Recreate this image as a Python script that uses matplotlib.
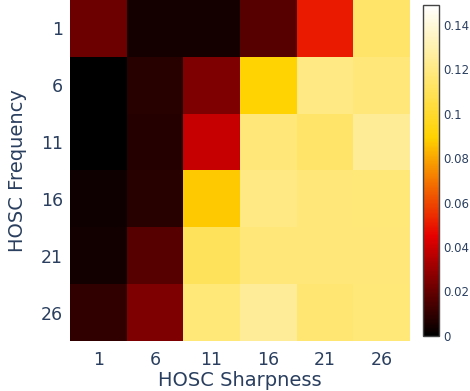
import numpy as np
import matplotlib.pyplot as plt
from matplotlib.colors import LinearSegmentedColormap

sharpness = [1, 6, 11, 16, 21, 26]
frequency = [1, 6, 11, 16, 21, 26]

# rows = frequency, columns = sharpness
row_1 = [0.0212, 0.0042, 0.0042, 0.0174, 0.0503, 0.114]
row_6 = [0.0000, 0.0077, 0.0250, 0.0900, 0.1200, 0.118]
row_11 = [0.0003, 0.0074, 0.0386, 0.1180, 0.1140, 0.124]
row_16 = [0.0030, 0.0077, 0.0875, 0.1200, 0.1180, 0.117]
row_21 = [0.0035, 0.0174, 0.1110, 0.1180, 0.1180, 0.118]
row_26 = [0.0097, 0.0247, 0.1170, 0.1250, 0.1160, 0.117]

cbar_ticks = [0, 0.02, 0.04, 0.06, 0.08, 0.1, 0.12, 0.14]
cbar_labels = ['0', '0.02', '0.04', '0.06', '0.08', '0.1', '0.12', '0.14']

z = np.array([row_1, row_6, row_11, row_16, row_21, row_26])

# plotly "Hot" scale
hot = LinearSegmentedColormap.from_list('hot_pl', [
    (0.0, (0, 0, 0)),
    (0.3, (230/255, 0, 0)),
    (0.6, (1, 210/255, 0)),
    (1.0, (1, 1, 1))])

txt = '#2a3f5f'
fig = plt.figure(figsize=(4.7, 3.91), dpi=100)
ax = fig.add_axes([0.149, 0.128, 0.723, 0.872])
im = ax.imshow(z, cmap=hot, vmin=0, vmax=0.149, aspect='auto', origin='upper')

ax.set_xticks(range(len(sharpness)))
ax.set_xticklabels([str(s) for s in sharpness])
ax.set_yticks(range(len(frequency)))
ax.set_yticklabels([str(f) for f in frequency])
ax.tick_params(length=0, labelsize=12.5, labelcolor=txt, pad=5)
ax.tick_params(axis='x', pad=7)
for s in ax.spines.values():
    s.set_visible(False)
ax.set_xlabel('HOSC Sharpness', fontsize=14, color=txt, labelpad=2)
ax.set_ylabel('HOSC Frequency', fontsize=14, color=txt, labelpad=10)

cax = fig.add_axes([0.8994, 0.1414, 0.034, 0.8458])
cb = fig.colorbar(im, cax=cax, ticks=cbar_ticks)
cb.ax.set_yticklabels(cbar_labels)
cb.ax.tick_params(length=0, labelsize=8.5, labelcolor=txt, pad=3)
cb.outline.set_edgecolor('#444444')
cb.outline.set_linewidth(1)

fig.savefig('out.png', dpi=100)
